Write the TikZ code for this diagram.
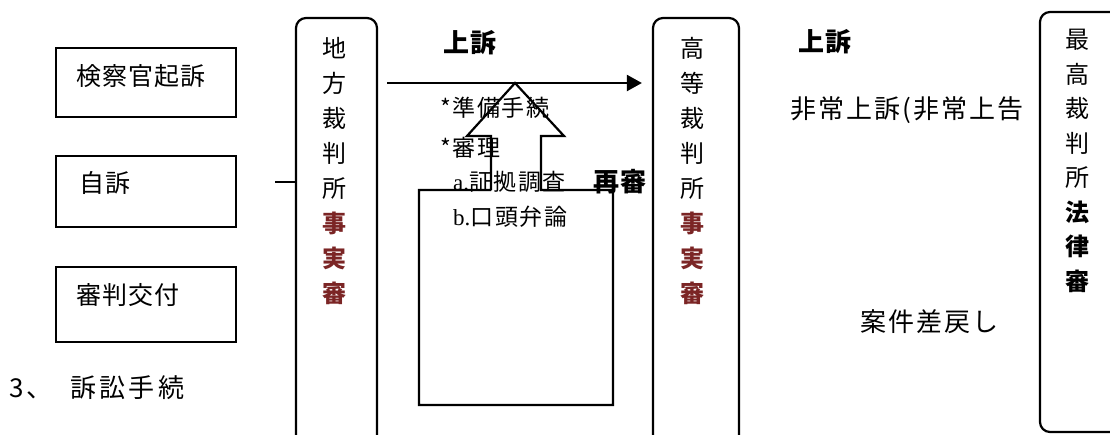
\documentclass[tikz,border=0pt]{standalone}
\usepackage{fontspec}
\setmainfont{Noto Sans CJK JP}
\newfontfamily\latserif{Liberation Serif}
\usetikzlibrary{arrows.meta}
\definecolor{fact}{HTML}{7B2525}
\begin{document}
\begin{tikzpicture}[x=1pt,y=-1pt,
  box/.style={draw,line width=2.2pt,inner sep=0pt},
  court/.style={draw,line width=2.2pt,rounded corners=10pt,inner sep=0pt},
  lbl/.style={inner sep=0pt,anchor=west,font=\fontsize{25}{28}\selectfont\addfontfeature{LetterSpace=4}},
  note/.style={inner sep=0pt,anchor=west,font=\fontsize{23}{26}\selectfont\addfontfeature{LetterSpace=7}},
  big/.style={inner sep=0pt,font=\fontsize{26}{30}\selectfont\addfontfeature{LetterSpace=8}},
  bigb/.style={inner sep=0pt,font=\fontsize{26}{30}\bfseries\selectfont\addfontfeature{LetterSpace=4}},
  col/.style={inner sep=0pt,anchor=north,align=center,font=\fontsize{24}{35}\selectfont},
  conn/.style={line width=2.2pt}
]
\clip (0,0) rectangle (1110,434);
\fill[white] (0,0) rectangle (1110,434);

% left boxes
\node[box,minimum width=180pt,minimum height=69pt] (b1) at (146,82.5) {};
\node[box,minimum width=180pt,minimum height=71pt] (b2) at (146,191.5) {};
\node[box,minimum width=180pt,minimum height=75pt] (b3) at (146,304.5) {};
\node[lbl] (t1) at (76,76) {検察官起訴};
\node[lbl] (t2) at (79,183) {自訴};
\node[lbl] (t3) at (76,295) {審判交付};

\node[big,anchor=west,font=\fontsize{26}{30}\selectfont\addfontfeature{LetterSpace=12}] (title) at (9,388) {3、\hspace{18pt}訴訟手続};

% courts
\node[court,minimum width=81pt,minimum height=427pt] (chiho) at (336.5,231.5) {};
\node[col] (chihotxt) at (334,37) {地\\方\\裁\\判\\所\\\textcolor{fact}{\bfseries 事}\\\textcolor{fact}{\bfseries 実}\\\textcolor{fact}{\bfseries 審}};

\node[court,minimum width=86pt,minimum height=427pt] (koto) at (696,231.5) {};
\node[col] (kototxt) at (692,37) {高\\等\\裁\\判\\所\\\textcolor{fact}{\bfseries 事}\\\textcolor{fact}{\bfseries 実}\\\textcolor{fact}{\bfseries 審}};

\node[court,minimum width=80pt,minimum height=420pt] (saiko) at (1080,222) {};
\node[col,font=\fontsize{24}{34.5}\selectfont] (saikotxt) at (1077,29) {最\\高\\裁\\判\\所\\{\bfseries 法}\\{\bfseries 律}\\{\bfseries 審}};

% connectors
\coordinate (c0) at (275,182);
\draw[conn] (c0) -- (c0 -| chiho.west);
\coordinate (a0) at (387,83);
\draw[conn,-{Triangle[length=15pt,width=16pt]},shorten >=10pt] (a0) -- (a0 -| koto.west);

% block arrow with box
\draw[line width=2.2pt,line join=miter] (491,190) -- (491,136) -- (467,136) -- (515,83) -- (564,136) -- (541,136) -- (541,190) -- (613,190) -- (613,405) -- (419,405) -- (419,190) -- (491,190);

% texts
\node[bigb] (up1) at (470,43) {上訴};
\node[bigb] (up2) at (825,42) {上訴};
\node[note] (n1) at (440,108) {*準備手続};
\node[note] (n2) at (440,148) {*審理};
\node[note] (n3) at (453,182) {{\latserif a.}証拠調査};
\node[note] (n4) at (453,217) {{\latserif b.}口頭弁論};
\node[bigb] (saishin) at (620,182) {再審};
\node[big,anchor=west] (hijo) at (790,110) {非常上訴(非常上告};
\node[big,anchor=west] (sashi) at (860,322) {案件差戻し};
\end{tikzpicture}
\end{document}
